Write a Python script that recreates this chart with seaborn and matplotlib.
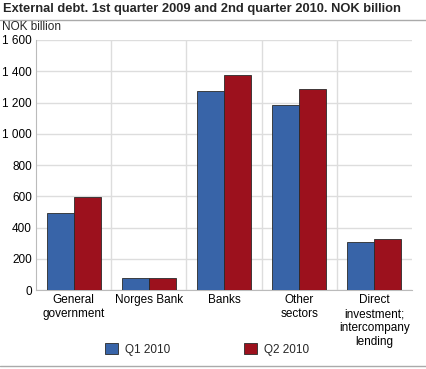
import matplotlib
matplotlib.use("Agg")
import matplotlib.pyplot as plt
import matplotlib.ticker as mticker
import seaborn as sns
import pandas as pd

# Data (NOK billion)
sectors = ["General\ngovernment", "Norges Bank", "Banks", "Other\nsectors",
           "Direct\ninvestment;\nintercompany\nlending"]
q1_2010 = [492, 77, 1274, 1184, 308]
q2_2010 = [594, 77, 1374, 1287, 326]
series = ["Q1 2010", "Q2 2010"]
colors = ["#3864a8", "#9c111d"]

df = pd.DataFrame({
    "sector": sectors * 2,
    "value": q1_2010 + q2_2010,
    "quarter": [series[0]] * len(sectors) + [series[1]] * len(sectors),
})

sns.set_style("white")
plt.rcParams["font.family"] = ["Liberation Sans", "DejaVu Sans"]

fig = plt.figure(figsize=(4.27, 3.69), dpi=100)
ax = fig.add_axes([0.0843, 0.214, 0.8806, 0.6776])

sns.barplot(data=df, x="sector", y="value", hue="quarter", palette=colors,
            width=0.72, edgecolor="#2a2a2a", linewidth=0.6, saturation=1,
            legend=False, ax=ax, zorder=3)

ax.set_ylim(0, 1600)
ax.set_xlim(-0.5, len(sectors) - 0.5)
ax.yaxis.set_major_locator(mticker.MultipleLocator(200))
ax.yaxis.set_major_formatter(mticker.FuncFormatter(lambda v, p: f"{int(v):,}".replace(",", " ")))
ax.grid(axis="y", color="#dddddd", linewidth=1, zorder=0)
for i in range(len(sectors) - 1):
    ax.axvline(i + 0.5, color="#dddddd", linewidth=1, zorder=0)

for s in ["top", "right"]:
    ax.spines[s].set_visible(False)
ax.spines["left"].set_color("#bbbbbb")
ax.spines["bottom"].set_color("#bbbbbb")
ax.tick_params(axis="both", length=0, labelsize=8.5, colors="black", pad=3)
ax.set_xlabel("")
ax.set_ylabel("")

fig.text(0.006, 0.975, "External debt. 1st quarter 2009 and 2nd quarter 2010. NOK billion",
         fontsize=9.3, fontweight="bold", ha="left", va="center")
fig.add_artist(plt.Line2D([0, 1], [0.945, 0.945], color="#aaaaaa", linewidth=1))
fig.text(0.005, 0.928, "NOK billion", fontsize=8.5, ha="left", va="center")
fig.add_artist(plt.Line2D([0, 1], [0.008, 0.008], color="#aaaaaa", linewidth=1))

# Legend
handles = [plt.Rectangle((0, 0), 1, 1, facecolor=c, edgecolor="#2a2a2a", linewidth=0.6)
           for c in colors]
fig.legend(handles, series, loc="center", bbox_to_anchor=(0.485, 0.053), ncol=2,
           frameon=False, fontsize=8.5, handlelength=1.1, handleheight=1.1,
           columnspacing=6.2, handletextpad=0.6)

fig.savefig("out.png", dpi=100)
